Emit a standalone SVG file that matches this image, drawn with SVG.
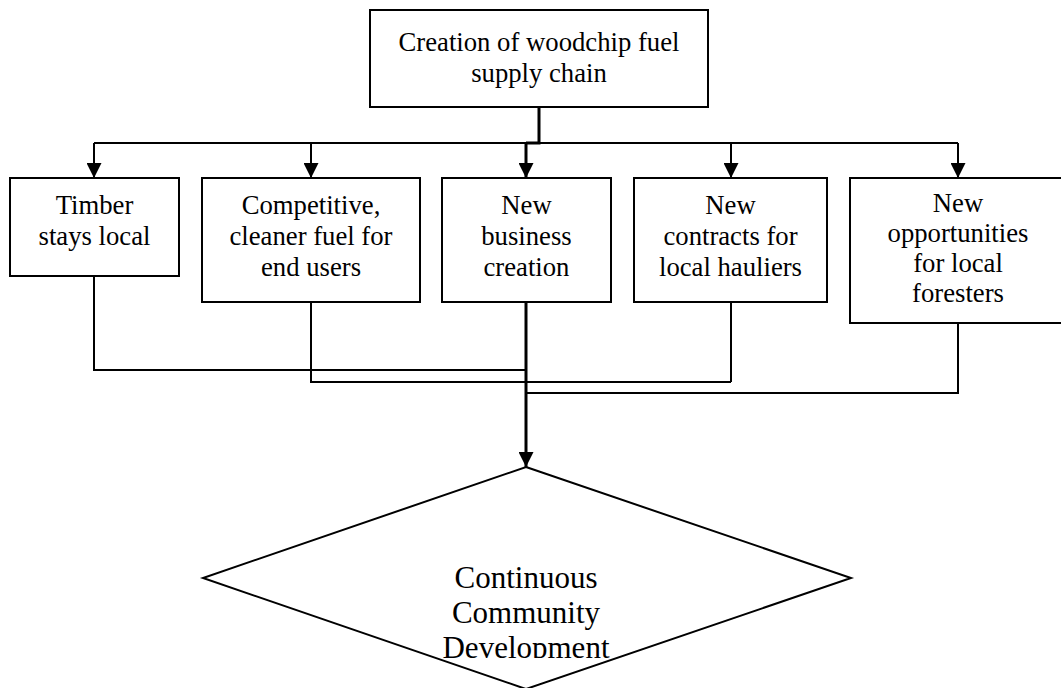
<svg xmlns="http://www.w3.org/2000/svg" width="1061" height="688" viewBox="0 0 1061 688">
  <style>
    .box { fill: #fff; stroke: #000; stroke-width: 2; }
    .lbl { font-family: "Liberation Serif", "Times New Roman", serif; font-size: 26.7px; fill: #000; text-anchor: middle; }
    .big { font-size: 31px; }
    .wire { fill: none; stroke: #000; stroke-width: 2; }
    .thick { fill: none; stroke: #000; stroke-width: 3; }
  </style>
  <defs>
    <marker id="arrow" markerUnits="userSpaceOnUse" markerWidth="15" markerHeight="15" viewBox="0 0 15 15" refX="15" refY="7.5" orient="auto">
      <path d="M0,0 L15,7.5 L0,15 Z" fill="#000"/>
    </marker>
    <!-- the label area of the diamond cuts off the last line's descenders -->
    <clipPath id="diamondText">
      <rect x="380" y="540" width="300" height="118"/>
    </clipPath>
  </defs>
  <rect width="1061" height="688" fill="#fff"/>

  <!-- connectors -->
  <g id="connectors">
    <path class="thick" d="M539,107 V143 H526"/>
    <path class="wire" d="M94,143 H958"/>
    <path class="wire" d="M94,143 V178" marker-end="url(#arrow)"/>
    <path class="wire" d="M311,143 V178" marker-end="url(#arrow)"/>
    <path class="thick" d="M526,143 V178" marker-end="url(#arrow)"/>
    <path class="wire" d="M731,143 V178" marker-end="url(#arrow)"/>
    <path class="wire" d="M958,143 V178" marker-end="url(#arrow)"/>
    <path class="wire" d="M94,276 V370 H526"/>
    <path class="wire" d="M311,302 V382 H731"/>
    <path class="wire" d="M731,302 V382"/>
    <path class="wire" d="M958,323 V393 H526"/>
    <path class="thick" d="M526,302 V467" marker-end="url(#arrow)"/>
  </g>

  <g id="source">
    <rect class="box" x="370" y="10" width="338" height="97"/>
    <text class="lbl" x="539" y="51">Creation of woodchip fuel</text>
    <text class="lbl" x="539" y="82">supply chain</text>
  </g>

  <g id="timber">
    <rect class="box" x="10" y="178" width="169" height="98"/>
    <text class="lbl" x="94.5" y="214">Timber</text>
    <text class="lbl" x="94.5" y="245">stays local</text>
  </g>

  <g id="fuel">
    <rect class="box" x="202" y="178" width="218" height="124"/>
    <text class="lbl" x="311" y="214">Competitive,</text>
    <text class="lbl" x="311" y="245">cleaner fuel for</text>
    <text class="lbl" x="311" y="276">end users</text>
  </g>

  <g id="business">
    <rect class="box" x="442" y="178" width="169" height="124"/>
    <text class="lbl" x="526.5" y="214">New</text>
    <text class="lbl" x="526.5" y="245">business</text>
    <text class="lbl" x="526.5" y="276">creation</text>
  </g>

  <g id="hauliers">
    <rect class="box" x="634" y="178" width="193" height="124"/>
    <text class="lbl" x="730.5" y="214">New</text>
    <text class="lbl" x="730.5" y="245">contracts for</text>
    <text class="lbl" x="730.5" y="276">local hauliers</text>
  </g>

  <g id="foresters">
    <rect class="box" x="850" y="178" width="218" height="145"/>
    <text class="lbl" x="958" y="212">New</text>
    <text class="lbl" x="958" y="242">opportunities</text>
    <text class="lbl" x="958" y="272">for local</text>
    <text class="lbl" x="958" y="302">foresters</text>
  </g>

  <g id="outcome">
    <polygon class="box" points="526,467 851,578 526,689 203,578"/>
    <g clip-path="url(#diamondText)">
      <text class="lbl big" x="526" y="588">Continuous</text>
      <text class="lbl big" x="526" y="623">Community</text>
      <text class="lbl big" x="526" y="658">Development</text>
    </g>
  </g>
</svg>
